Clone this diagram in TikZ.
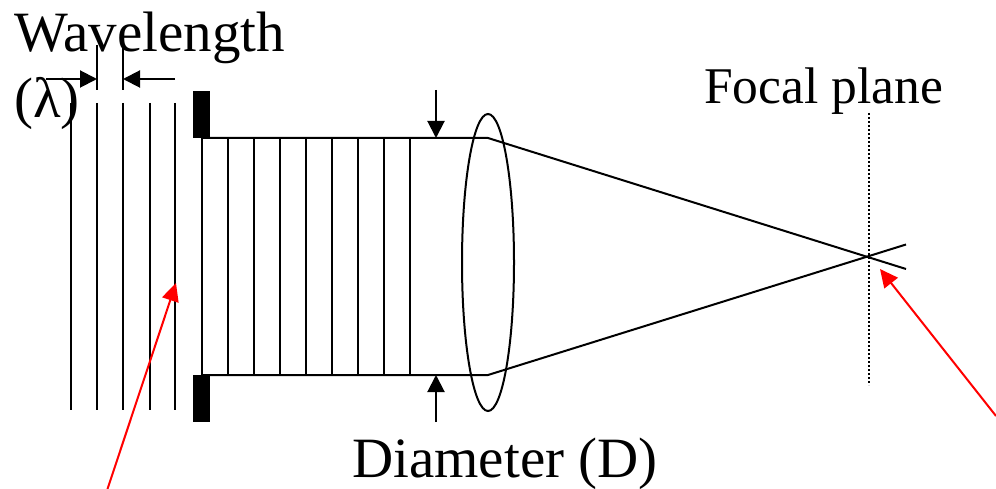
\documentclass[tikz,border=0pt]{standalone}
\usepackage{fontspec}
\setmainfont{Liberation Serif}
\usepackage{tikz}
\usetikzlibrary{shapes}
\usetikzlibrary{arrows.meta}
\tikzset{
  optic_line/.style = {draw=black, line width=2pt},
  lens_node/.style = {ellipse, draw=black, line width=2pt, inner sep=0pt,
    minimum width=52pt, minimum height=297pt},
  stop_node/.style = {rectangle, draw=none, fill=black, inner sep=0pt,
    minimum width=17pt, minimum height=47pt},
  size_arrow/.style = {optic_line, -{Triangle[length=17pt, width=17pt]}},
  red_arrow/.style = {draw=red, line width=2pt,
    -{Triangle[length=18pt, width=17pt]}},
  focal_line/.style = {draw=black, line width=1.7pt, dash pattern=on 1.6pt off 2.4pt},
  caption_text/.style = {inner sep=0pt, anchor=base west, font=\fontsize{57}{66}\selectfont}
}

\begin{document}
\begin{tikzpicture}[x=1pt, y=-1pt]
    \useasboundingbox (0,0) rectangle (996,489);
    % incoming wave
    \foreach \x/\name in {71/a, 97/b, 123/c, 149.5/d, 175/e} {
      \coordinate (wave_top_\name) at (\x,103);
      \coordinate (wave_bot_\name) at (\x,410);
      \draw [optic_line] (wave_top_\name) -- (wave_bot_\name);
    }
    \coordinate (tick_top_b) at (97,45);
    \coordinate (tick_bot_b) at (97,90);
    \coordinate (tick_top_c) at (123,45);
    \coordinate (tick_bot_c) at (123,90);
    \draw [optic_line] (tick_top_b) -- (tick_bot_b);
    \draw [optic_line] (tick_top_c) -- (tick_bot_c);
    \coordinate (wl_left) at (46,79);
    \coordinate (wl_tip_left) at (97,79);
    \coordinate (wl_right) at (175,79);
    \coordinate (wl_tip_right) at (123,79);
    \draw [size_arrow] (wl_left) -- (wl_tip_left);
    \draw [size_arrow] (wl_right) -- (wl_tip_right);
    % aperture
    \node [stop_node] (stop_top) at (201.5,114.5) {};
    \node [stop_node] (stop_bot) at (201.5,398.5) {};
    % beam after the aperture
    \coordinate (beam_top) at (201,138);
    \coordinate (beam_bot) at (201,375);
    \coordinate (bend_top) at (488,138);
    \coordinate (bend_bot) at (488,375);
    \coordinate (ray_end_top) at (906,269);
    \coordinate (ray_end_bot) at (906,244.5);
    \draw [optic_line] (beam_top) -- (bend_top) -- (ray_end_top);
    \draw [optic_line] (beam_bot) -- (bend_bot) -- (ray_end_bot);
    \foreach \x [count=\i] in {202, 228, 254, 280, 306, 332, 358, 384, 410} {
      \coordinate (front_top_\i) at (\x,138);
      \coordinate (front_bot_\i) at (\x,375);
      \draw [optic_line] (front_top_\i) -- (front_bot_\i);
    }
    \node [lens_node] (lens) at (488,262.5) {};
    % diameter marks
    \coordinate (dia_top) at (436,90);
    \coordinate (dia_tip_top) at (436,138);
    \coordinate (dia_bot) at (436,422);
    \coordinate (dia_tip_bot) at (436,375);
    \draw [size_arrow] (dia_top) -- (dia_tip_top);
    \draw [size_arrow] (dia_bot) -- (dia_tip_bot);
    % focal plane
    \coordinate (focal_top) at (869,113);
    \coordinate (focal_bot) at (869,385);
    \draw [focal_line] (focal_top) -- (focal_bot);
    % red pointers
    \coordinate (ptr_wave) at (107.5,489);
    \coordinate (ptr_wave_tip) at (176,283);
    \coordinate (ptr_focus) at (996,416);
    \coordinate (ptr_focus_tip) at (880,269);
    \draw [red_arrow] (ptr_wave) -- (ptr_wave_tip);
    \draw [red_arrow] (ptr_focus) -- (ptr_focus_tip);
    % texts
    \node [caption_text] (wavelength) at (14,52) {Wavelength};
    \node [caption_text] (lambda) at (14,118) {(λ)};
    \node [caption_text, font=\fontsize{51.5}{60}\selectfont] (focal) at (704,104) {Focal plane};
    \node [caption_text] (diameter) at (352,477) {Diameter (D)};
\end{tikzpicture}
\end{document}
